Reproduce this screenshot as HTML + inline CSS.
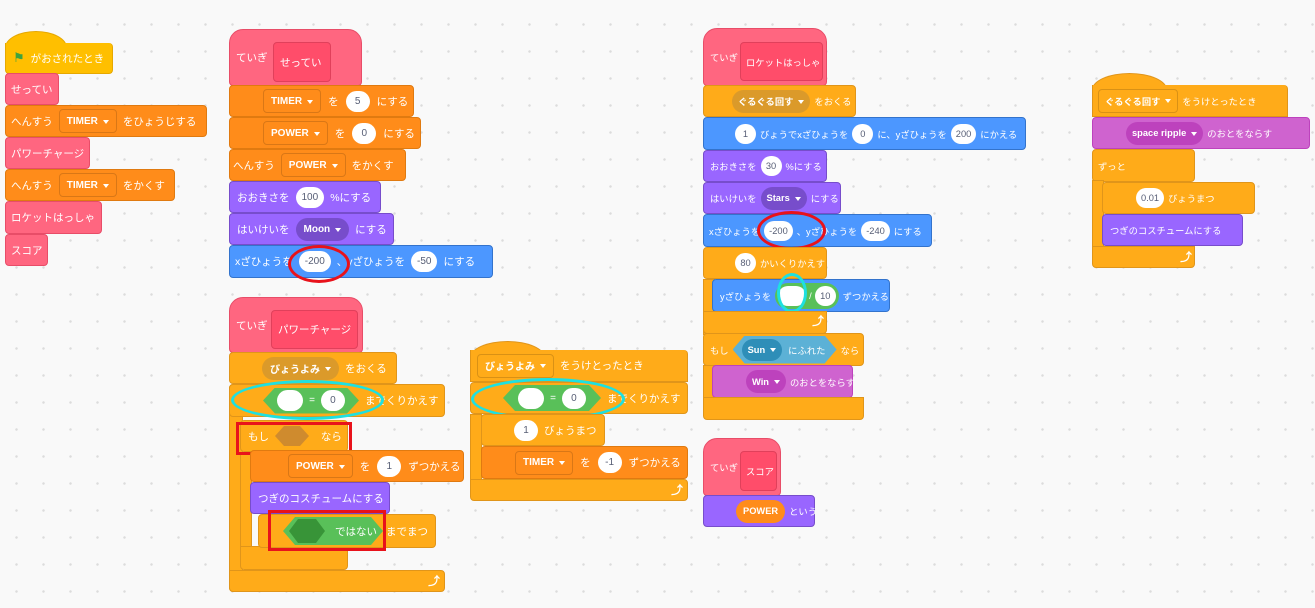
<!DOCTYPE html>
<html><head><meta charset="utf-8">
<style>
*{box-sizing:border-box;margin:0;padding:0}
body{width:1315px;height:608px;overflow:hidden;background-color:#f9f9f9;
background-image:radial-gradient(circle,#dcdcdc 1px,transparent 1.5px);background-size:27px 27px;background-position:3px 11px;
font-family:"Liberation Sans","Noto Sans CJK JP",sans-serif;position:relative}
.b{position:absolute;display:flex;align-items:center;gap:6px;color:#fff;font-size:10.5px;padding-left:8px;border-radius:4px;white-space:nowrap}
.ev{background:#ffbf00;border:1px solid #e6a800}
.ct{background:#ffab19;border:1px solid #e0951a}
.va{background:#ff8c1a;border:1px solid #e07a10}
.pk{background:#ff6680;border:1px solid #e84d68}
.lo{background:#9966ff;border:1px solid #774dcb}
.mo{background:#4c97ff;border:1px solid #3373cc}
.so{background:#cf63cf;border:1px solid #bd42bd}
.in{background:#fff;color:#575e75;border-radius:11px;height:21px;min-width:24px;padding:0 6px;display:flex;align-items:center;justify-content:center;font-size:10px}
.dd{border:1px solid rgba(0,0,0,.15);border-radius:4px;height:24px;padding:0 7px;display:flex;align-items:center;font-weight:bold;font-size:10px}
.dd:after{content:"";border:3.5px solid transparent;border-top:4.5px solid #fff;margin:4px 0 0 5px}
.do{border-radius:12px;font-weight:bold;font-size:10px;height:23px;padding:0 8px;display:flex;align-items:center}
.do:after{content:"";border:3.5px solid transparent;border-top:4.5px solid #fff;margin:4px 0 0 5px}
.hat{position:absolute;border-radius:60% 60% 0 0/100% 100% 0 0}
.def{position:absolute;border-radius:14px 14px 4px 4px}
.proto{position:absolute;background:#ff4d6a;border:1px solid #e0405b;border-radius:4px;color:#fff;font-size:10.5px;display:flex;align-items:center;padding-left:6px;white-space:nowrap}
.cy{position:absolute;border:3px solid #1ee0e0;border-radius:50%}
.r{position:absolute;border:3px solid #e8121b}
.arm{position:absolute}
.ar{position:absolute;color:#fff;font-size:12px;font-weight:bold}
.sm .b{font-size:9.3px;gap:4px}
.sm .proto{font-size:9.3px;padding-left:5px}
.sm .in{font-size:9.3px;min-width:21px;padding:0 5px;height:20px}
.sm .do,.sm .dd{font-size:9.3px;padding:0 6px}
</style></head><body>

<!-- left stack -->
<div class="hat ev" style="left:5px;top:31px;width:62px;height:20px;border-bottom:none"></div>
<div class="b ev" style="left:5px;top:43px;width:108px;height:31px;border-top:none;border-radius:0 4px 4px 4px;padding-left:7px"><span style="color:#3ea33e;font-size:13px">⚑</span>がおされたとき</div>
<div class="b pk" style="left:5px;top:73px;width:54px;height:32px;padding-left:5px">せってい</div>
<div class="b va" style="left:5px;top:105px;width:202px;height:32px;padding-left:5px">へんすう<span class="dd">TIMER</span>をひょうじする</div>
<div class="b pk" style="left:5px;top:137px;width:85px;height:32px;padding-left:5px">パワーチャージ</div>
<div class="b va" style="left:5px;top:169px;width:170px;height:32px;padding-left:5px">へんすう<span class="dd">TIMER</span>をかくす</div>
<div class="b pk" style="left:5px;top:201px;width:97px;height:33px;padding-left:5px">ロケットはっしゃ</div>
<div class="b pk" style="left:5px;top:234px;width:43px;height:32px;padding-left:5px">スコア</div>

<!-- setup define -->
<div class="def pk" style="left:229px;top:29px;width:133px;height:57px"></div>
<div class="b" style="left:229px;top:29px;height:57px;padding-left:7px">ていぎ</div>
<div class="proto" style="left:273px;top:42px;width:58px;height:40px">せってい</div>
<div class="b va" style="left:229px;top:85px;width:185px;height:32px;padding-left:33px;gap:7px">
<span class="dd">TIMER</span>を<span class="in">5</span>にする</div>
<div class="b va" style="left:229px;top:117px;width:192px;height:32px;padding-left:33px;gap:7px">
<span class="dd">POWER</span>を<span class="in">0</span>にする</div>
<div class="b va" style="left:229px;top:149px;width:177px;height:32px;padding-left:3px">へんすう<span class="dd">POWER</span>をかくす</div>
<div class="b lo" style="left:229px;top:181px;width:152px;height:32px;padding-left:7px">おおきさを<span class="in">100</span>%にする</div>
<div class="b lo" style="left:229px;top:213px;width:165px;height:32px;padding-left:7px">はいけいを<span class="do" style="background:#774dcb">Moon</span>にする</div>
<div class="b mo" style="left:229px;top:245px;width:264px;height:33px;padding-left:5px">xざひょうを<span class="in">-200</span>、yざひょうを<span class="in">-50</span>にする</div>
<div class="cy" style="left:288px;top:245px;width:62px;height:38px;border-color:#e8121b"></div>

<!-- power charge define -->
<div class="def pk" style="left:229px;top:297px;width:134px;height:56px"></div>
<div class="b" style="left:229px;top:297px;height:56px;padding-left:7px">ていぎ</div>
<div class="proto" style="left:271px;top:310px;width:87px;height:39px">パワーチャージ</div>
<div class="b ct" style="left:229px;top:352px;width:168px;height:32px;padding-left:32px">
<span class="do" style="background:#db9a2a">びょうよみ</span>をおくる</div>
<div class="arm ct" style="left:229px;top:384px;width:14px;height:208px;border-radius:4px 0 0 4px"></div>
<div class="b ct" style="left:229px;top:384px;width:216px;height:33px;padding-left:33px">
<span style="width:96px;height:26px;display:flex;align-items:center;gap:6px;justify-content:center;background:#59c059;clip-path:polygon(12px 0,84px 0,96px 50%,84px 100%,12px 100%,0 50%)"><span class="in" style="width:26px"></span><span style="font-size:10px">=</span><span class="in">0</span></span>までくりかえす</div>
<div class="arm ct" style="left:229px;top:570px;width:216px;height:22px;border-radius:0 4px 4px 4px"></div>
<div class="ar" style="left:428px;top:572px">⤴</div>
<div class="cy" style="left:231px;top:380px;width:153px;height:40px"></div>

<div class="b ct" style="left:240px;top:420px;width:108px;height:32px;padding-left:7px">もし<span style="width:34px;height:20px;background:#cf8b2e;clip-path:polygon(9px 0,25px 0,34px 50%,25px 100%,9px 100%,0 50%)"></span>&nbsp;&nbsp;なら</div>
<div class="arm ct" style="left:240px;top:452px;width:12px;height:96px"></div>
<div class="arm ct" style="left:240px;top:546px;width:108px;height:24px;border-radius:0 0 4px 4px"></div>
<div class="r" style="left:236px;top:422px;width:116px;height:33px"></div>
<div class="b va" style="left:250px;top:450px;width:214px;height:32px;padding-left:37px;gap:7px">
<span class="dd">POWER</span>を<span class="in">1</span>ずつかえる</div>
<div class="b lo" style="left:250px;top:482px;width:140px;height:32px;padding-left:7px">つぎのコスチュームにする</div>
<div class="b ct" style="left:258px;top:514px;width:178px;height:34px;padding-left:24px;gap:3px">
<span style="width:100px;height:28px;background:#59c059;display:flex;align-items:center;gap:10px;clip-path:polygon(12px 0,88px 0,100px 50%,88px 100%,12px 100%,0 50%)"><span style="margin-left:6px;width:36px;height:24px;background:#389438;clip-path:polygon(9px 0,27px 0,36px 50%,27px 100%,9px 100%,0 50%)"></span>ではない</span>までまつ</div>
<div class="r" style="left:268px;top:510px;width:118px;height:41px"></div>

<!-- broadcast receive -->
<div class="hat ct" style="left:470px;top:341px;width:75px;height:20px;border-bottom:none"></div>
<div class="b ct" style="left:470px;top:350px;width:218px;height:32px;padding-left:6px;border-top:none;border-radius:0 4px 0 0">
<span class="dd">びょうよみ</span>をうけとったとき</div>
<div class="arm ct" style="left:470px;top:414px;width:12px;height:70px"></div>
<div class="b ct" style="left:470px;top:382px;width:218px;height:32px;padding-left:32px">
<span style="width:98px;height:26px;display:flex;align-items:center;gap:6px;justify-content:center;background:#59c059;clip-path:polygon(12px 0,86px 0,98px 50%,86px 100%,12px 100%,0 50%)"><span class="in" style="width:26px"></span><span style="font-size:10px">=</span><span class="in">0</span></span>までくりかえす</div>
<div class="cy" style="left:471px;top:378px;width:154px;height:42px"></div>
<div class="b ct" style="left:481px;top:414px;width:124px;height:32px;padding-left:32px"><span class="in">1</span>びょうまつ</div>
<div class="b va" style="left:481px;top:446px;width:207px;height:33px;padding-left:33px;gap:7px">
<span class="dd">TIMER</span>を<span class="in">-1</span>ずつかえる</div>
<div class="arm ct" style="left:470px;top:479px;width:218px;height:22px;border-radius:0 4px 4px 4px"></div>
<div class="ar" style="left:671px;top:481px">⤴</div>

<div class="sm">
<!-- rocket define -->
<div class="def pk" style="left:703px;top:28px;width:124px;height:58px"></div>
<div class="b" style="left:703px;top:28px;height:58px;padding-left:7px">ていぎ</div>
<div class="proto" style="left:740px;top:42px;width:83px;height:39px">ロケットはっしゃ</div>
<div class="b ct" style="left:703px;top:85px;width:153px;height:32px;padding-left:28px">
<span class="do" style="background:#db9a2a">ぐるぐる回す</span>をおくる</div>
<div class="b mo" style="left:703px;top:117px;width:323px;height:33px;padding-left:31px">
<span class="in">1</span>びょうでxざひょうを<span class="in">0</span>に、yざひょうを<span class="in">200</span>にかえる</div>
<div class="b lo" style="left:703px;top:150px;width:124px;height:32px;padding-left:6px">おおきさを<span class="in">30</span>%にする</div>
<div class="b lo" style="left:703px;top:182px;width:138px;height:32px;padding-left:6px">はいけいを<span class="do" style="background:#774dcb">Stars</span>にする</div>
<div class="b mo" style="left:703px;top:214px;width:229px;height:33px;padding-left:5px">xざひょうを<span class="in">-200</span>、yざひょうを<span class="in">-240</span>にする</div>
<div class="cy" style="left:757px;top:211px;width:69px;height:39px;border-color:#e8121b"></div>
<div class="b ct" style="left:703px;top:247px;width:124px;height:32px;padding-left:31px"><span class="in">80</span>かいくりかえす</div>
<div class="arm ct" style="left:703px;top:279px;width:12px;height:56px"></div>
<div class="b mo" style="left:712px;top:279px;width:178px;height:33px;padding-left:7px">yざひょうを
<span style="background:#59c059;border-radius:13px;height:26px;display:flex;align-items:center;gap:3px;padding:0 3px"><span class="in" style="width:28px"></span>/<span class="in">10</span></span>ずつかえる</div>
<div class="cy" style="left:777px;top:273px;width:30px;height:40px"></div>
<div class="arm ct" style="left:703px;top:311px;width:124px;height:23px;border-radius:0 0 4px 4px"></div>
<div class="ar" style="left:812px;top:312px">⤴</div>
<div class="b ct" style="left:703px;top:333px;width:161px;height:33px;padding-left:6px">もし
<span style="background:#5cb1d6;height:28px;width:104px;display:flex;align-items:center;gap:6px;padding-left:9px;clip-path:polygon(12px 0,92px 0,104px 50%,92px 100%,12px 100%,0 50%)"><span class="do" style="background:#2e8eb8;height:22px">Sun</span>にふれた</span>なら</div>
<div class="arm ct" style="left:703px;top:365px;width:12px;height:35px"></div>
<div class="b so" style="left:712px;top:365px;width:141px;height:33px;padding-left:33px"><span class="do" style="background:#bd42bd">Win</span>のおとをならす</div>
<div class="arm ct" style="left:703px;top:397px;width:161px;height:23px;border-radius:0 0 4px 4px"></div>

<!-- score define -->
<div class="def pk" style="left:703px;top:438px;width:78px;height:58px"></div>
<div class="b" style="left:703px;top:438px;height:58px;padding-left:7px">ていぎ</div>
<div class="proto" style="left:740px;top:451px;width:37px;height:40px">スコア</div>
<div class="b lo" style="left:703px;top:495px;width:112px;height:32px;padding-left:32px"><span style="background:#ff8c1a;border-radius:12px;height:23px;padding:0 7px;display:flex;align-items:center;font-weight:bold;font-size:9.3px">POWER</span>という</div>

<!-- right stack -->
<div class="hat ct" style="left:1092px;top:73px;width:75px;height:20px;border-bottom:none"></div>
<div class="b ct" style="left:1092px;top:85px;width:196px;height:32px;padding-left:5px;border-top:none;border-radius:0 4px 0 0">
<span class="dd">ぐるぐる回す</span>をうけとったとき</div>
<div class="b so" style="left:1092px;top:117px;width:218px;height:32px;padding-left:33px">
<span class="do" style="background:#bd42bd">space ripple</span>のおとをならす</div>
<div class="b ct" style="left:1092px;top:149px;width:103px;height:33px;padding-left:5px">ずっと</div>
<div class="arm ct" style="left:1092px;top:180px;width:12px;height:68px"></div>
<div class="b ct" style="left:1102px;top:182px;width:153px;height:32px;padding-left:33px"><span class="in">0.01</span>びょうまつ</div>
<div class="b lo" style="left:1102px;top:214px;width:141px;height:32px;padding-left:7px">つぎのコスチュームにする</div>
<div class="arm ct" style="left:1092px;top:246px;width:103px;height:22px;border-radius:0 0 4px 4px"></div>
<div class="ar" style="left:1180px;top:248px">⤴</div>
</div>

</body></html>
